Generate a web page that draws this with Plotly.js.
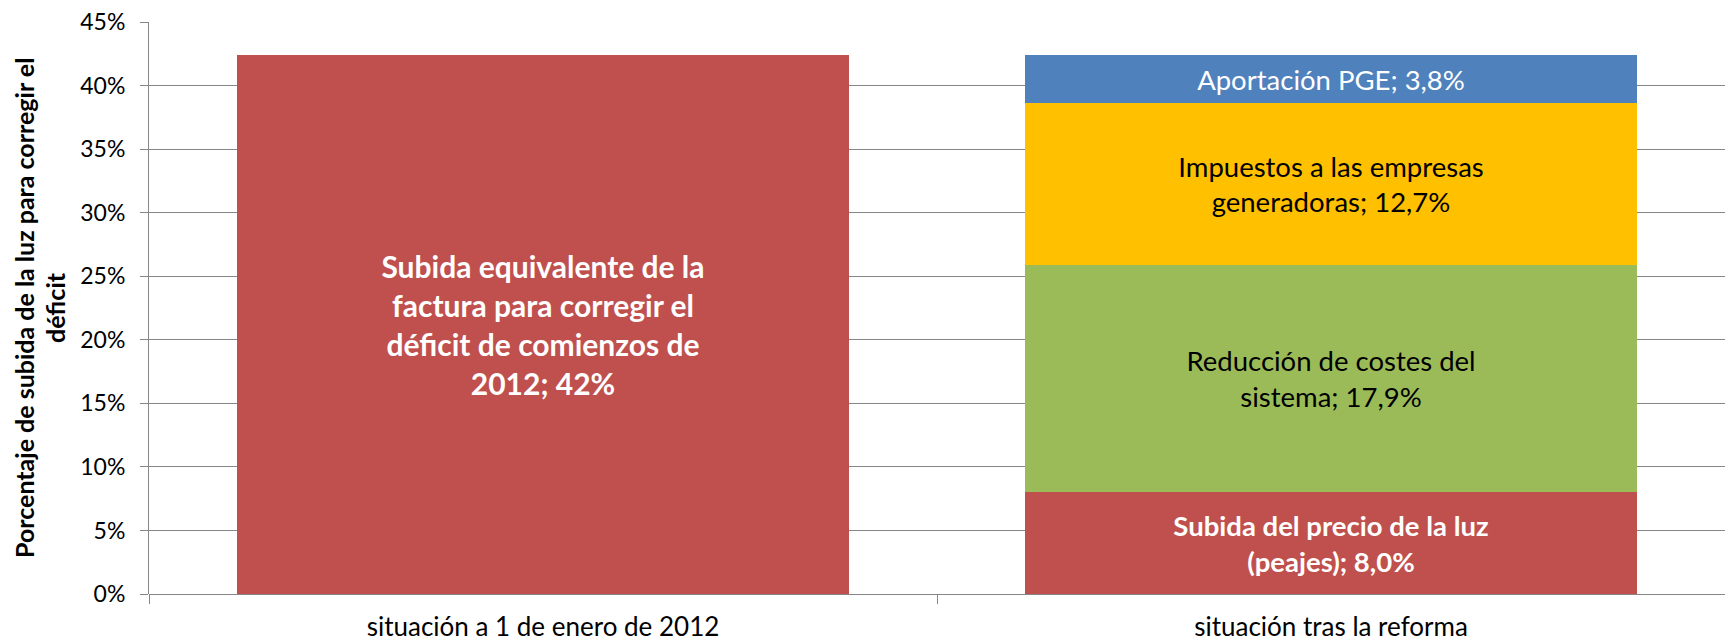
<!DOCTYPE html>
<html>
<head>
<meta charset="utf-8">
<script src="https://cdn.plot.ly/plotly-3.0.1.min.js"></script>
<style>
  html, body { margin: 0; padding: 0; background: #fff; }
  #chart { width: 1725px; height: 644px; }
</style>
</head>
<body>
<div id="chart"></div>
<script>
var categories = ['situación a 1 de enero de 2012', 'situación tras la reforma'];

// bar 1: total deficit-equivalent increase
var deficitValue = [42.4];
var deficitLabel = ['Subida equivalente de la<br>factura para corregir el<br>déficit de comienzos de<br>2012; 42%'];

// bar 2: how it is covered after the reform (bottom to top)
var partNames = ['Subida del precio de la luz', 'Reducción de costes', 'Impuestos a las empresas', 'Aportación PGE'];
var partValues = [8.0, 17.9, 12.7, 3.8];
var partLabels = [
  'Subida del precio de la luz<br>(peajes); 8,0%',
  'Reducción de costes del<br>sistema; 17,9%',
  'Impuestos a las empresas<br>generadoras; 12,7%',
  'Aportación PGE; 3,8%'
];
var partColors = ['#C0504D', '#9BBB59', '#FFC000', '#4F81BD'];
var partTextColors = ['#FFFFFF', '#000000', '#000000', '#FFFFFF'];
var partBold = [true, false, false, false];

var yTickVals = [0, 5, 10, 15, 20, 25, 30, 35, 40, 45];
var yTitleLines = ['Porcentaje de subida de la luz para corregir el', 'déficit'];

var FONT = 'Lato, "Open Sans", sans-serif';

var data = [{
  type: 'bar',
  x: [categories[0]],
  y: deficitValue,
  text: deficitLabel.map(function (t) { return '<b>' + t + '</b>'; }),
  textposition: 'inside',
  insidetextanchor: 'middle',
  textangle: 0,
  textfont: { family: FONT, size: 30, color: '#FFFFFF' },
  marker: { color: '#C0504D' },
  hoverinfo: 'skip',
  showlegend: false
}];

partValues.forEach(function (v, i) {
  data.push({
    type: 'bar',
    name: partNames[i],
    x: [categories[1]],
    y: [v],
    text: [partBold[i] ? '<b>' + partLabels[i] + '</b>' : partLabels[i]],
    textposition: 'inside',
    insidetextanchor: 'middle',
    textangle: 0,
    textfont: { family: FONT, size: 27.5, color: partTextColors[i] },
    marker: { color: partColors[i] },
    hoverinfo: 'skip',
    showlegend: false
  });
});

var layout = {
  width: 1725,
  height: 644,
  margin: { l: 149, r: 0, t: 22, b: 50 },
  paper_bgcolor: '#FFFFFF',
  plot_bgcolor: '#FFFFFF',
  barmode: 'stack',
  bargap: 0.224,
  font: { family: FONT, size: 22, color: '#000000' },
  xaxis: {
    type: 'category',
    tickson: 'boundaries',
    ticks: 'outside',
    ticklen: 9,
    tickcolor: '#868686',
    tickfont: { family: FONT, size: 26, color: '#000000' },
    ticklabelstandoff: 15,
    showline: false,
    showgrid: false,
    zeroline: false
  },
  yaxis: {
    range: [0, 45],
    tickvals: yTickVals,
    ticktext: yTickVals.map(function (v) { return v + '%'; }),
    ticks: 'outside',
    ticklen: 8,
    tickcolor: '#868686',
    tickfont: { family: FONT, size: 23, color: '#000000' },
    ticklabelstandoff: 10,
    showgrid: true,
    gridcolor: '#868686',
    gridwidth: 1,
    showline: true,
    linecolor: '#868686',
    linewidth: 1,
    zeroline: true,
    zerolinecolor: '#868686',
    zerolinewidth: 1
  },
  annotations: yTitleLines.map(function (line, i) {
    return {
      xref: 'paper', yref: 'paper',
      x: 0, y: 0.5,
      xanchor: 'center', yanchor: 'middle',
      xshift: i === 0 ? -125 : -94, yshift: 0,
      textangle: -90,
      showarrow: false,
      text: '<b>' + line + '</b>',
      font: { family: FONT, size: 25, color: '#000000' }
    };
  })
};

Plotly.newPlot('chart', data, layout, { displayModeBar: false, staticPlot: true });
</script>
</body>
</html>
